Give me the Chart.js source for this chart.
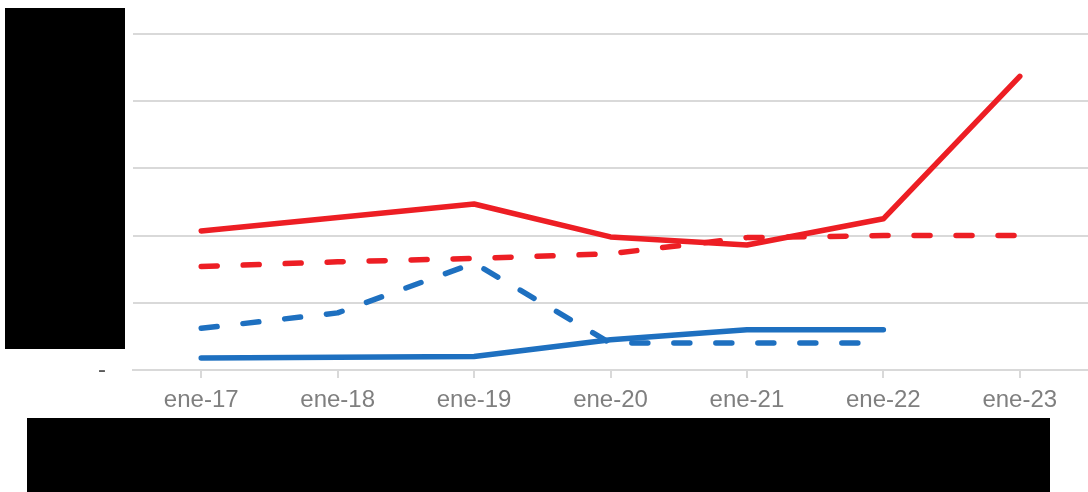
<!DOCTYPE html>
<html>
<head>
<meta charset="utf-8">
<script src="https://cdn.jsdelivr.net/npm/chart.js@4"></script>
<style>
  html,body{margin:0;padding:0;background:#fff;}
  #wrap{position:relative;width:1088px;height:492px;}
  canvas{position:absolute;left:0;top:0;}
  .box{position:absolute;background:#000;}
</style>
</head>
<body>
<div id="wrap">
  <canvas id="c" width="1088" height="492"></canvas>
  <div class="box" style="left:5px;top:8px;width:120px;height:341px;"></div>
  <div class="box" style="left:27px;top:418px;width:1023px;height:74px;"></div>
</div>
<script>
const categories = ['ene-17','ene-18','ene-19','ene-20','ene-21','ene-22','ene-23'];
const redSolid   = [2.07, 2.27, 2.47, 1.98, 1.86, 2.25, 4.37];
const redDashed  = [1.54, 1.61, 1.66, 1.73, 1.97, 2.00, 2.00];
const blueSolid  = [0.18, 0.19, 0.20, 0.45, 0.60, 0.60, null];
const blueDashed = [0.62, 0.85, 1.59, 0.40, 0.40, 0.40, null];
const yTicks = [0, 1, 2, 3, 4, 5];

const RED = 'rgb(237,30,36)';
const BLUE = 'rgb(30,112,192)';
const mk = (data, color, dashed) => ({
  data, borderColor: color, backgroundColor: color, borderWidth: 5.5,
  borderDash: dashed ? [16, 26] : [], borderCapStyle: 'round', borderJoinStyle: 'round',
  pointRadius: 0, tension: 0, spanGaps: false, fill: false
});

new Chart(document.getElementById('c'), {
  type: 'line',
  data: {
    labels: categories,
    datasets: [
      mk(blueDashed, BLUE, true),
      mk(blueSolid, BLUE, false),
      mk(redDashed, RED, true),
      mk(redSolid, RED, false)
    ]
  },
  options: {
    responsive: false,
    animation: false,
    devicePixelRatio: 1,
    layout: { padding: 0 },
    plugins: { legend: { display: false }, tooltip: { enabled: false } },
    scales: {
      x: {
        offset: true,
        afterFit: (s) => { s.height = 122; },
        grid: { drawOnChartArea: false, drawTicks: true, tickLength: 8, color: '#d9d9d9', lineWidth: 2 },
        border: { display: true, color: '#d9d9d9', width: 2 },
        ticks: { color: '#7f7f7f', font: { family: 'Liberation Sans', size: 24 }, padding: 8, maxRotation: 0 }
      },
      y: {
        min: 0, max: 5,
        afterBuildTicks: (s) => { s.ticks = yTicks.map(v => ({ value: v })); },
        afterFit: (s) => { s.width = 133; s.paddingTop = 34; },
        grid: { color: '#d9d9d9', lineWidth: 2, drawTicks: false },
        border: { display: false },
        ticks: {
          color: '#595959', font: { family: 'Liberation Sans', size: 24 }, padding: 27,
          callback: (v) => v === 0 ? '-' : ''
        }
      }
    }
  }
});
</script>
</body>
</html>
